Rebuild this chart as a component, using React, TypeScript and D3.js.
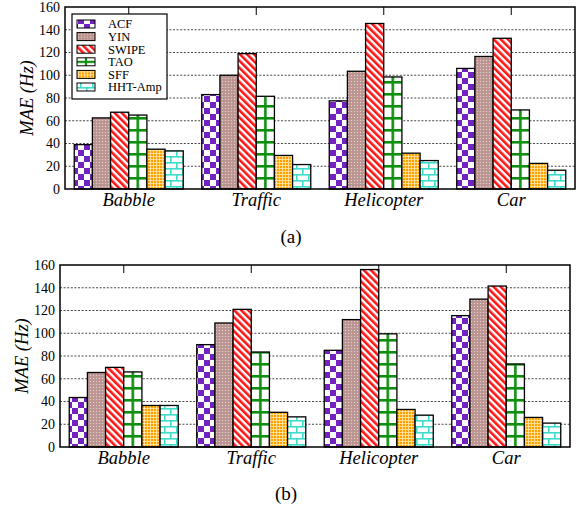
import * as React from 'react';
import * as d3 from 'd3';

const categories = ['Babble', 'Traffic', 'Helicopter', 'Car'];
const methods = ['ACF', 'YIN', 'SWIPE', 'TAO', 'SFF', 'HHT-Amp'];
const yTicks = [0, 20, 40, 60, 80, 100, 120, 140, 160];

// (a)
const acfA = [39, 83, 77.5, 106];
const yinA = [62.5, 100, 103.5, 116.5];
const swipeA = [67.5, 119, 145.5, 132.5];
const taoA = [65, 81.5, 98.5, 69.5];
const sffA = [35, 29.5, 31.5, 22.5];
const hhtA = [33.5, 21.5, 25, 16.5];

// (b)
const acfB = [43.5, 90, 85, 115.5];
const yinB = [65.5, 109, 112, 130];
const swipeB = [70, 121, 156, 141.5];
const taoB = [66, 83.5, 99.5, 73];
const sffB = [36.5, 30.5, 33, 26];
const hhtB = [36.5, 26.5, 28, 21];

const seriesA = [acfA, yinA, swipeA, taoA, sffA, hhtA];
const seriesB = [acfB, yinB, swipeB, taoB, sffB, hhtB];

const FONT = 'Liberation Serif, Times New Roman, Times, serif';
const PURPLE = '#7322c2';
const GREEN = '#0d8f0d';
const TURQ = '#3fdccb';

const staticFill = ['url(#p-acf)', 'url(#p-yin)', 'url(#p-swipe)', null, 'url(#p-sff)', 'url(#p-hht)'];

function Patterns() {
  return (
    <>
      <pattern id="p-acf" patternUnits="userSpaceOnUse" width={12} height={12}>
        <rect width={12} height={12} fill="#fff" />
        <rect x={0} y={0} width={6} height={6} fill={PURPLE} />
        <rect x={6} y={6} width={6} height={6} fill={PURPLE} />
      </pattern>
      <pattern id="p-yin" patternUnits="userSpaceOnUse" width={3} height={3}>
        <rect width={3} height={3} fill="#bf9995" />
        <rect x={0} y={0} width={1} height={1} fill="#e3cdca" />
        <rect x={1.5} y={1.5} width={1} height={1} fill="#a88480" />
      </pattern>
      <pattern id="p-swipe" patternUnits="userSpaceOnUse" width={5} height={5} patternTransform="rotate(-45)">
        <rect width={5} height={5} fill="#fff" />
        <rect x={0} y={0} width={2.6} height={5} fill="#ff1414" />
      </pattern>
      <pattern id="p-sff" patternUnits="userSpaceOnUse" width={3} height={3}>
        <rect width={3} height={3} fill="#ffa200" />
        <rect x={0} y={0} width={0.8} height={3} fill="#ffe9b0" />
        <rect x={0} y={0} width={3} height={0.8} fill="#ffe9b0" />
      </pattern>
      <pattern id="p-hht" patternUnits="userSpaceOnUse" width={12} height={12}>
        <rect width={12} height={12} fill="#fff" />
        <rect x={0} y={0} width={12} height={1.6} fill={TURQ} />
        <rect x={0} y={6} width={12} height={1.6} fill={TURQ} />
        <rect x={2} y={0} width={1.6} height={6} fill={TURQ} />
        <rect x={8} y={6} width={1.6} height={6} fill={TURQ} />
      </pattern>
      <pattern id="p-tao-leg" patternUnits="objectBoundingBox" width={1} height={1}>
        <rect width={18} height={8} fill="#fff" />
        <rect x={0} y={3} width={18} height={2.2} fill={GREEN} />
        <rect x={7.9} y={0} width={2.2} height={8} fill={GREEN} />
      </pattern>
    </>
  );
}

type ChartProps = {
  id: string;
  series: number[][];
  left: number;
  right: number;
  top: number;
  bottom: number;
  labelX: number;
  caption: string;
  captionX: number;
  captionY: number;
  legend: boolean;
};

function Chart(p: ChartProps) {
  const x0 = d3.scaleBand<string>().domain(categories).range([p.left, p.right])
    .paddingInner(0.145).paddingOuter(0.0725);
  const x1 = d3.scaleBand<string>().domain(methods).range([0, x0.bandwidth()]);
  const y = d3.scaleLinear().domain([0, 160]).range([p.bottom, p.top]);
  const bw = x1.bandwidth();
  const txt = { fontFamily: FONT };

  return (
    <g>
      <defs>
        {categories.map((c, i) => (
          <pattern key={c} id={`tao-${p.id}-${i}`} patternUnits="userSpaceOnUse"
            x={x0(c)! + x1('TAO')!} y={y(0)} width={bw} height={12}>
            <rect width={bw} height={12} fill="#fff" />
            <rect x={0} y={0} width={bw} height={2.6} fill={GREEN} />
            <rect x={bw / 2 - 1.3} y={0} width={2.6} height={12} fill={GREEN} />
          </pattern>
        ))}
      </defs>
      {yTicks.slice(1, -1).map(t => (
        <line key={t} x1={p.left} x2={p.right} y1={y(t)} y2={y(t)}
          stroke="#333" strokeWidth={0.9} strokeDasharray="2,1.6" />
      ))}
      {yTicks.map(t => (
        <text key={t} x={p.left - 5} y={y(t)} dy="0.35em" textAnchor="end"
          fontSize={14} style={txt}>{t}</text>
      ))}
      {categories.map((c, i) => (
        <g key={c}>
          {methods.map((m, j) => {
            const v = p.series[j][i];
            const fill = staticFill[j] ?? `url(#tao-${p.id}-${i})`;
            return (
              <rect key={m} x={x0(c)! + x1(m)!} y={y(v)} width={bw} height={y(0) - y(v)}
                fill={fill} stroke="#000" strokeWidth={1.3} />
            );
          })}
          <line x1={x0(c)! + x0.bandwidth() / 2} x2={x0(c)! + x0.bandwidth() / 2}
            y1={p.top} y2={p.top + 8} stroke="#000" strokeWidth={1} />
          <text x={x0(c)! + x0.bandwidth() / 2} y={p.bottom + 17} textAnchor="middle"
            fontSize={18.5} fontStyle="italic" style={txt}>{c}</text>
        </g>
      ))}
      <rect x={p.left} y={p.top} width={p.right - p.left} height={p.bottom - p.top}
        fill="none" stroke="#000" strokeWidth={1.5} />
      <text transform={`translate(${p.labelX},${(p.top + p.bottom) / 2}) rotate(-90)`}
        textAnchor="middle" dy="0.35em" fontSize={18.5} fontStyle="italic" style={txt}>
        MAE (Hz)
      </text>
      <text x={p.captionX} y={p.captionY} textAnchor="middle" fontSize={19} style={txt}>
        {p.caption}
      </text>
      {p.legend && (
        <g>
          <rect x={72} y={14} width={95} height={85} fill="#fff" stroke="#000" strokeWidth={1.2} />
          {methods.map((m, j) => (
            <g key={m} transform={`translate(0,${24 + j * 12.6})`}>
              <rect x={77} y={-4} width={18} height={8}
                fill={staticFill[j] ?? 'url(#p-tao-leg)'} stroke="#000" strokeWidth={1} />
              <text x={108} y={0} dy="0.35em" fontSize={12.5} style={txt}>{m}</text>
            </g>
          ))}
        </g>
      )}
    </g>
  );
}

export default function App() {
  return (
    <svg width={581} height={508} style={{ position: 'absolute', left: 0, top: 0, background: '#fff' }}>
      <defs>
        <Patterns />
      </defs>
      <Chart id="a" series={seriesA} left={65} right={575} top={7} bottom={189}
        labelX={27} caption="(a)" captionX={291} captionY={243} legend={true} />
      <Chart id="b" series={seriesB} left={60} right={570} top={265} bottom={447}
        labelX={22} caption="(b)" captionX={286} captionY={500} legend={false} />
    </svg>
  );
}
